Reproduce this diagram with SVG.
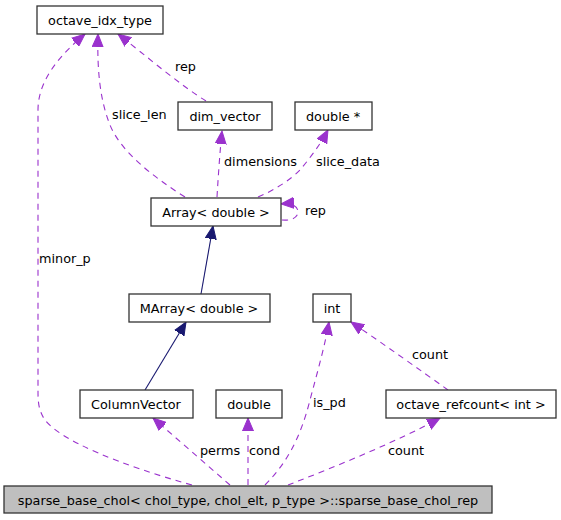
<svg xmlns="http://www.w3.org/2000/svg" width="561" height="520" viewBox="0 0 561 520">
<defs>
<style>
.box{fill:#ffffff;stroke:#333333;stroke-width:1.3}
.main{fill:#bfbfbf;stroke:#333333;stroke-width:1.3}
text{font-family:"DejaVu Sans",sans-serif;font-size:12.8px;fill:#000000}
.c{text-anchor:middle}
.use{fill:none;stroke:#9a32cd;stroke-width:1.1;stroke-dasharray:6,5}
.inh{fill:none;stroke:#191970;stroke-width:1.1}
</style>
<marker id="pa" markerWidth="14" markerHeight="12" refX="13" refY="5.5" orient="auto" markerUnits="userSpaceOnUse" viewBox="0 0 14 11">
<path d="M0,0 L13,5.5 L0,11 Z" fill="#9a32cd" stroke="#9a32cd"/>
</marker>
<marker id="ba" markerWidth="14" markerHeight="12" refX="13" refY="5.5" orient="auto" markerUnits="userSpaceOnUse" viewBox="0 0 14 11">
<path d="M0,0 L13,5.5 L0,11 Z" fill="#191970" stroke="#191970"/>
</marker>
</defs>
<rect width="561" height="520" fill="#ffffff"/>
<g id="edges">
<path class="use" marker-end="url(#pa)" d="M192,485 C120,465 60,440 45,420 C38,410 38,400 38,390 L38,110 C38,80 60,55 85,34"/>
<path class="use" marker-end="url(#pa)" d="M185,197 C150,175 120,150 110,125 C100,100 97,70 98,34"/>
<path class="use" marker-end="url(#pa)" d="M206,101 C180,85 145,55 118,34"/>
<path class="use" marker-end="url(#pa)" d="M217,197 C218,180 220,150 222,131"/>
<path class="use" marker-end="url(#pa)" d="M258,197 C275,190 290,180 300,170 C310,158 320,145 328,130"/>
<path class="use" marker-end="url(#pa)" d="M282,220 C292,221 298,217 298,212 C298,206 292,203 281,204"/>
<path class="inh" marker-end="url(#ba)" d="M201,294 L213,226"/>
<path class="inh" marker-end="url(#ba)" d="M145,390 L186,322"/>
<path class="use" marker-end="url(#pa)" d="M230,485 L153,418"/>
<path class="use" marker-end="url(#pa)" d="M248,485 L248,418"/>
<path class="use" marker-end="url(#pa)" d="M265,485 C285,465 300,440 310,400 C318,370 325,345 329,322"/>
<path class="use" marker-end="url(#pa)" d="M448,390 C420,370 385,345 351,322"/>
<path class="use" marker-end="url(#pa)" d="M288,485 C340,465 400,440 440,418"/>
<text x="39" y="263">minor_p</text>
<text x="112" y="119">slice_len</text>
<text x="175" y="71">rep</text>
<text x="224" y="166">dimensions</text>
<text x="316" y="166">slice_data</text>
<text x="305" y="215">rep</text>
<text x="200" y="455">perms</text>
<text x="249" y="455">cond</text>
<text x="313" y="407">is_pd</text>
<text x="412" y="359">count</text>
<text x="388" y="455">count</text>
</g>
<g id="n_octave_idx_type"><rect class="box" x="37" y="6" width="126" height="28"/><text class="c" x="100" y="24.5">octave_idx_type</text></g>
<g id="n_dim_vector"><rect class="box" x="178" y="102" width="94" height="28"/><text class="c" x="225" y="120.5">dim_vector</text></g>
<g id="n_double_ptr"><rect class="box" x="295" y="102" width="77" height="28"/><text class="c" x="333" y="120.5">double *</text></g>
<g id="n_array"><rect class="box" x="151" y="198" width="130" height="28"/><text class="c" x="216" y="216.5">Array&lt; double &gt;</text></g>
<g id="n_marray"><rect class="box" x="129" y="294" width="141" height="28"/><text class="c" x="199" y="312.5">MArray&lt; double &gt;</text></g>
<g id="n_int"><rect class="box" x="313" y="294" width="38" height="28"/><text class="c" x="332" y="312.5">int</text></g>
<g id="n_columnvector"><rect class="box" x="80" y="390" width="113" height="28"/><text class="c" x="136" y="408.5">ColumnVector</text></g>
<g id="n_double"><rect class="box" x="216" y="390" width="66" height="28"/><text class="c" x="249" y="408.5">double</text></g>
<g id="n_refcount"><rect class="box" x="386" y="390" width="170" height="28"/><text class="c" x="471" y="408.5">octave_refcount&lt; int &gt;</text></g>
<g id="n_rep"><rect class="main" x="4" y="486" width="488" height="27"/><text class="c" x="248" y="504.5">sparse_base_chol&lt; chol_type, chol_elt, p_type &gt;::sparse_base_chol_rep</text></g>
</svg>
